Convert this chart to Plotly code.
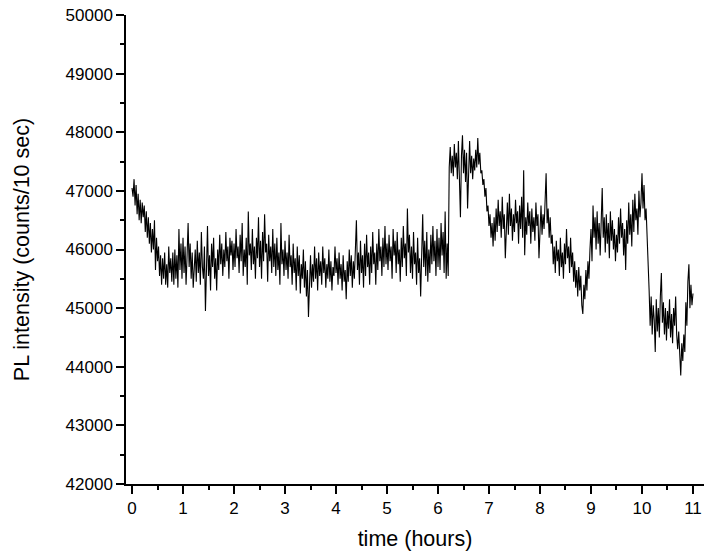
import numpy as np
import plotly.graph_objects as go

# Sampling step of the trace (hours)
time_step_hours = 0.02

# PL intensity (counts / 10 sec), one list per hour
pl_h00 = [47050, 46900, 47200, 46750, 47100, 46600, 46950, 46500, 46850, 46450,
          46800, 46550, 46750, 46300, 46650, 46200, 46550, 46100, 46450, 45950,
          46350, 46000, 46500, 45650, 46200, 45800, 46050, 45550, 45900, 45400,
          45850, 45500, 45950, 45400, 45750, 45350, 46050, 45600, 45850, 45450,
          45950, 45400, 46000, 45500, 45900, 45350, 46350, 45650, 46100, 45500]
pl_h01 = [46200, 45600, 46050, 45400, 45900, 46450, 45700, 46100, 45500, 45950,
          45350, 45800, 46000, 45450, 46150, 45600, 45950, 45400, 46300, 45700,
          45500, 46050, 44950, 45650, 46400, 45550, 45900, 45300, 46100, 45700,
          46200, 45500, 45850, 45300, 46000, 45650, 46250, 45750, 46100, 45550,
          46000, 45700, 46300, 45800, 46050, 45500, 46200, 45900, 46150, 45650]
pl_h02 = [46100, 45700, 46350, 45850, 46050, 45600, 46250, 45800, 46450, 45550,
          46000, 45700, 46200, 45400, 46650, 45900, 46100, 45650, 46350, 45750,
          46050, 45500, 46200, 45850, 46550, 45700, 46150, 45500, 46300, 45800,
          46600, 45950, 46100, 45450, 46250, 45800, 46050, 45600, 46350, 45700,
          46100, 45550, 46200, 45650, 45950, 45400, 46450, 45750, 46000, 45550]
pl_h03 = [46150, 45650, 45950, 45500, 46250, 45700, 45900, 45400, 46100, 45600,
          45850, 45300, 46050, 45550, 45900, 45250, 45750, 45500, 46000, 45350,
          45800, 45200, 45650, 44850, 45500, 45900, 45350, 45750, 45450, 46050,
          45500, 45850, 45300, 45950, 45550, 45800, 45400, 46050, 45600, 45850,
          45350, 45750, 45500, 46000, 45450, 45800, 45300, 45700, 45550, 46050]
pl_h04 = [45600, 45850, 45400, 45950, 45500, 45750, 45300, 45900, 45450, 45650,
          45150, 45800, 45450, 46000, 45550, 45900, 45350, 45800, 45500, 46050,
          46500, 45650, 45950, 45400, 46150, 45600, 45900, 45350, 46100, 45550,
          46250, 45700, 45950, 45400, 46050, 45600, 46300, 45750, 45950, 45400,
          46100, 45650, 46350, 45800, 46050, 45550, 46200, 45700, 46400, 45750]
pl_h05 = [46100, 45650, 46250, 45800, 46050, 45500, 46350, 45900, 46150, 45600,
          46300, 45750, 46000, 45450, 46200, 45700, 46400, 45850, 46100, 45550,
          46700, 45950, 46250, 45600, 46050, 45500, 46300, 45750, 45950, 45400,
          46200, 45600, 45850, 45200, 45900, 46600, 45700, 46150, 45550, 46300,
          45450, 46000, 45600, 46250, 45750, 46400, 45800, 46150, 45550, 46350]
pl_h06 = [45700, 46200, 45650, 46450, 45900, 46300, 45600, 46650, 45500, 46100,
          45550, 47400, 47750, 47300, 47600, 47250, 47800, 47400, 47650, 47200,
          47850, 47350, 46550, 47600, 47950, 47300, 47700, 47150, 47650, 46700,
          47450, 47850, 47300, 47600, 47200, 47550, 47350, 47700, 47400, 47900,
          47450, 47650, 47300, 47350, 47100, 47200, 46900, 47050, 46650, 46750]
pl_h07 = [46400, 46600, 46200, 46450, 46050, 46550, 46150, 46700, 46300, 46850,
          46400, 46650, 46200, 46900, 46350, 46600, 45850, 46500, 46800, 46250,
          46950, 46400, 46700, 46150, 46600, 46300, 46850, 46450, 46650, 46100,
          46750, 46350, 46900, 46200, 47350, 45900, 46550, 46250, 46800, 46400,
          46650, 46100, 46700, 46300, 46550, 46150, 46800, 46400, 46600, 45850]
pl_h08 = [46450, 46750, 46250, 46600, 46350, 46850, 47300, 46450, 46700, 46200,
          46550, 46100, 46250, 45750, 46050, 45600, 46150, 45800, 46000, 45550,
          46200, 45700, 45950, 45500, 46100, 45750, 46350, 45850, 46050, 45600,
          46200, 45700, 45950, 45450, 45800, 45350, 45650, 45200, 45700, 45300,
          45550, 45050, 44900, 45400, 45150, 45650, 45300, 45800, 45500, 46000]
pl_h09 = [46350, 45800, 46750, 46200, 46550, 46000, 46650, 46100, 46450, 45900,
          46700, 47050, 46200, 46550, 45950, 46600, 46100, 46450, 45850, 46650,
          46150, 46500, 46000, 46350, 45800, 46250, 45950, 46550, 46100, 46700,
          46200, 46450, 45900, 46350, 45650, 46500, 46100, 46800, 46250, 46600,
          46050, 46850, 46300, 46950, 46500, 46700, 46250, 47000, 46550, 46800]
pl_h10 = [47300, 46700, 47100, 46500, 46700, 46300, 45800, 45300, 44700, 45200,
          44550, 45050, 44800, 44250, 45150, 44600, 45000, 44500, 45200, 45600,
          44750, 45100, 44550, 45000, 44450, 44950, 44650, 45150, 44500, 44900,
          44400, 45000, 44700, 45200, 44550, 44300, 44600, 44050, 43850, 44400,
          44100, 44550, 44250, 45100, 44700, 45450, 45750, 45000, 45400, 45050,
          45250]

pl_counts = (pl_h00 + pl_h01 + pl_h02 + pl_h03 + pl_h04 + pl_h05 +
             pl_h06 + pl_h07 + pl_h08 + pl_h09 + pl_h10)
time_hours = np.arange(len(pl_counts)) * time_step_hours

x_tick_vals = list(range(0, 12))
y_tick_vals = list(range(42000, 50001, 1000))

FONT = "Liberation Sans, Arial, sans-serif"

fig = go.Figure(
    go.Scatter(
        x=time_hours,
        y=pl_counts,
        mode="lines",
        line=dict(color="black", width=1.1),
        showlegend=False,
        hoverinfo="skip",
    )
)

axis_common = dict(
    showgrid=False,
    zeroline=False,
    showline=True,
    linecolor="black",
    linewidth=1.5,
    ticks="outside",
    ticklen=8,
    tickwidth=1.5,
    tickcolor="black",
    tickfont=dict(family=FONT, size=17, color="black"),
    ticklabeloverflow="allow",
    automargin=False,
)

fig.update_xaxes(
    range=[-0.118, 11.216],
    tickvals=x_tick_vals,
    tickformat="d",
    minor=dict(dtick=0.5, ticks="outside", ticklen=4, tickwidth=1.5, tickcolor="black"),
    title=dict(text="time (hours)", font=dict(family=FONT, size=21.5, color="black"), standoff=14),
    **axis_common,
)
fig.update_yaxes(
    range=[42000, 50000],
    tickvals=y_tick_vals,
    tickformat="d",
    minor=dict(dtick=500, ticks="outside", ticklen=4, tickwidth=1.5, tickcolor="black"),
    title=dict(text="PL intensity (counts/10 sec)", font=dict(family=FONT, size=21.5, color="black"), standoff=30),
    **axis_common,
)

fig.update_layout(
    width=704,
    height=555,
    margin=dict(l=126, r=0, t=15, b=71),
    plot_bgcolor="white",
    paper_bgcolor="white",
)

# Remove the default 8 px page margin so the figure fills the window exactly
fig.write_html(
    "out.html",
    config={"displayModeBar": False},
    post_script="document.body.style.margin='0';document.body.style.overflow='hidden';",
)
